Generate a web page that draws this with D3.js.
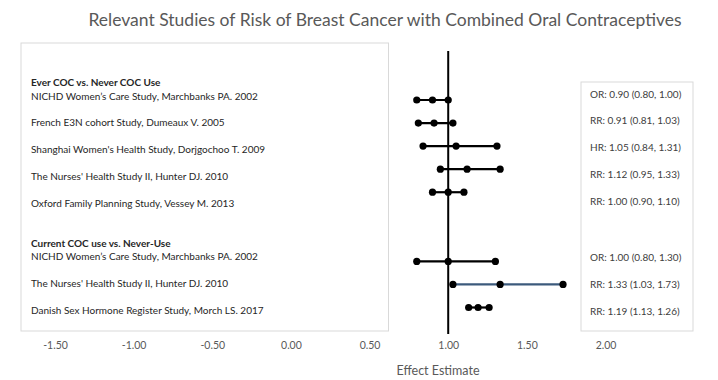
<!DOCTYPE html>
<html><head><meta charset="utf-8">
<script src="https://cdn.jsdelivr.net/npm/d3@7"></script>
<style>body{margin:0;background:#fff;} svg{display:block;font-family:Lato,"Open Sans",sans-serif;}</style>
</head><body>
<svg id="chart" width="718" height="380"></svg>
<script>
const title = "Relevant Studies of Risk of Breast Cancer with Combined Oral Contraceptives";
const xLabel = "Effect Estimate";
const groups = ["Ever COC vs. Never COC Use", "Current COC use vs. Never-Use"];
const studies = [
  "NICHD Women\u2019s Care Study, Marchbanks PA. 2002",
  "French E3N cohort Study, Dumeaux V. 2005",
  "Shanghai Women's Health Study, Dorjgochoo T. 2009",
  "The Nurses' Health Study II, Hunter DJ. 2010",
  "Oxford Family Planning Study, Vessey M. 2013",
  "NICHD Women\u2019s Care Study, Marchbanks PA. 2002",
  "The Nurses' Health Study II, Hunter DJ. 2010",
  "Danish Sex Hormone Register Study, Morch LS. 2017"
];
const studyGroup = [0,0,0,0,0,1,1,1];
const measure = ["OR","RR","HR","RR","RR","OR","RR","RR"];
const estimate = [0.90,0.91,1.05,1.12,1.00,1.00,1.33,1.19];
const lower = [0.80,0.81,0.84,0.95,0.90,0.80,1.03,1.13];
const upper = [1.00,1.03,1.31,1.33,1.10,1.30,1.73,1.26];
const xTicks = [-1.5,-1.0,-0.5,0,0.5,1.0,1.5,2.0];
const refValue = 1.0;

const svg = d3.select("#chart");
const x = d3.scaleLinear().domain([-1.5, 2.0]).range([55, 605.5]);
// row index: group 0 rows 0..4, group 1 rows offset by 2
const rowIdx = studies.map((d,i)=> i + (studyGroup[i] ? 2 : 0));
const yPt = d3.scaleLinear().domain([0,9]).range([100,307.5]);
const labIdx = studies.map((d,i)=> i + (studyGroup[i] ? 1 : 0));
const yLab = d3.scaleLinear().domain([0,8]).range([96,310]);

// title
svg.append("text").attr("x", 385).attr("y", 26).attr("text-anchor","middle")
  .attr("font-size", 17.5).attr("fill","#595959").text(title);

// left text box
svg.append("rect").attr("x",21).attr("y",43).attr("width",367.5).attr("height",288)
  .attr("fill","none").attr("stroke","#d9d9d9").attr("stroke-width",1);
// right value box
svg.append("rect").attr("x",581).attr("y",82).attr("width",112).attr("height",249)
  .attr("fill","none").attr("stroke","#d9d9d9").attr("stroke-width",1);

// group headers
groups.forEach((g,gi)=>{
  const firstIdx = studyGroup.indexOf(gi);
  svg.append("text").attr("x",31).attr("y", yLab(labIdx[firstIdx]) - 13.5)
    .attr("dy","0.35em").attr("font-size",10).attr("font-weight","bold").attr("fill","#262626").text(g);
});
// study labels
svg.selectAll("text.lab").data(studies).join("text").attr("class","lab")
  .attr("x",31).attr("y",(d,i)=>yLab(labIdx[i])).attr("dy","0.35em")
  .attr("font-size",10).attr("fill","#262626").text(d=>d);

// value labels
const f = d3.format(".2f");
svg.selectAll("text.val").data(studies).join("text").attr("class","val")
  .attr("x",590).attr("y",(d,i)=>yLab(labIdx[i]) - 2 + (studyGroup[i]?3:0)).attr("dy","0.35em")
  .attr("font-size",10).attr("fill","#404040")
  .text((d,i)=>`${measure[i]}: ${f(estimate[i])} (${f(lower[i])}, ${f(upper[i])})`);

// reference line
svg.append("line").attr("x1",x(refValue)).attr("x2",x(refValue)).attr("y1",51).attr("y2",334)
  .attr("stroke","#000").attr("stroke-width",2);

// CI lines
svg.selectAll("line.ci").data(studies).join("line").attr("class","ci")
  .attr("x1",(d,i)=>x(lower[i])).attr("x2",(d,i)=>x(upper[i]))
  .attr("y1",(d,i)=>yPt(rowIdx[i])).attr("y2",(d,i)=>yPt(rowIdx[i]))
  .attr("stroke",(d,i)=> i===6 ? "#3c5a7c" : "#000").attr("stroke-width",2.2);

// points
studies.forEach((d,i)=>{
  [lower[i], estimate[i], upper[i]].forEach(v=>{
    svg.append("circle").attr("cx",x(v)).attr("cy",yPt(rowIdx[i])).attr("r",3.6).attr("fill","#000");
  });
});

// x axis tick labels
const axis = d3.axisBottom(x).tickValues(xTicks).tickFormat(d => d3.format(".2f")(d).replace("\u2212","-")).tickSize(0).tickPadding(0);
const ag = svg.append("g").attr("transform","translate(0,342)").call(axis);
ag.select(".domain").remove();
ag.selectAll("text").attr("font-size",10.5).attr("fill","#595959").attr("font-family","Lato,'Open Sans',sans-serif");

svg.append("text").attr("x",438).attr("y",375).attr("text-anchor","middle")
  .attr("font-size",12.5).attr("fill","#595959").text(xLabel);
</script>
</body></html>
